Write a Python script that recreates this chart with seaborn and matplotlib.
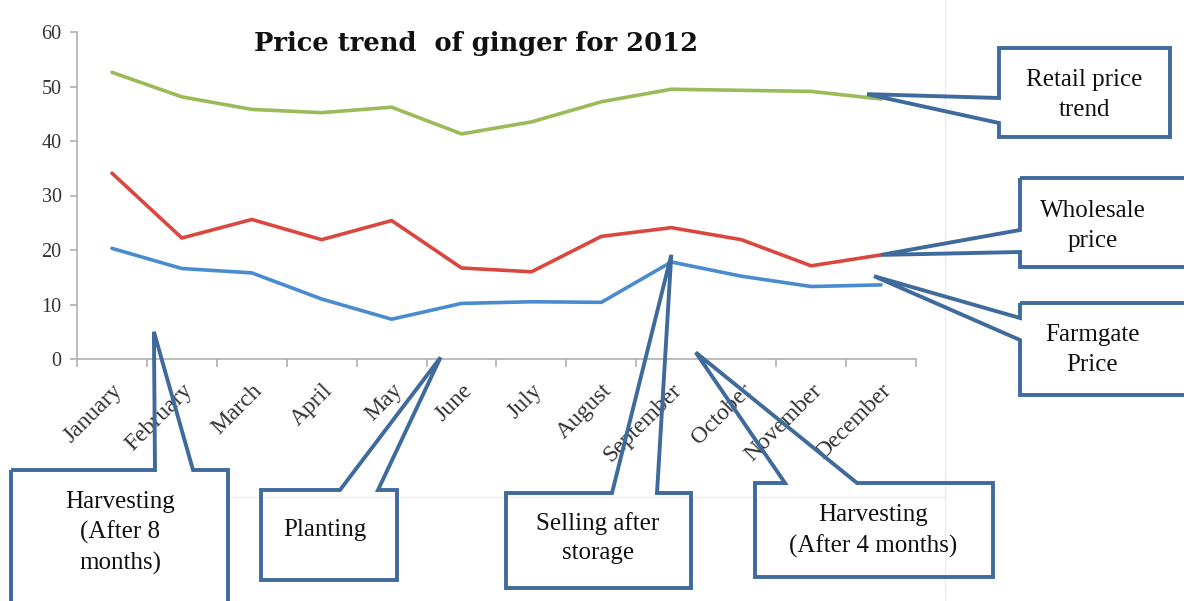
import numpy as np
import pandas as pd
import matplotlib.pyplot as plt
import seaborn as sns
from matplotlib.patches import Polygon
from matplotlib.lines import Line2D

# Data
months = ["January", "February", "March", "April", "May", "June", "July",
          "August", "September", "October", "November", "December"]
retail = [52.6, 48.1, 45.8, 45.2, 46.2, 41.3, 43.5, 47.2, 49.5, 49.3, 49.1, 47.7]
wholesale = [34.1, 22.2, 25.6, 21.9, 25.4, 16.7, 16.0, 22.5, 24.1, 21.9, 17.1, 19.1]
farmgate = [20.3, 16.6, 15.8, 11.0, 7.3, 10.2, 10.5, 10.4, 17.8, 15.2, 13.3, 13.6]
yticks = [0, 10, 20, 30, 40, 50, 60]

df = pd.DataFrame({"month": months * 3,
                   "idx": list(range(12)) * 3,
                   "price": retail + wholesale + farmgate,
                   "series": ["Retail"] * 12 + ["Wholesale"] * 12 + ["Farmgate"] * 12})

W, H = 1184, 601
sns.set_theme(style="white")
plt.rcParams['font.family'] = ['Liberation Serif', 'DejaVu Serif']

fig = plt.figure(figsize=(W / 100, H / 100), dpi=100)
ax = fig.add_axes([77 / W, 1 - 359 / H, (916 - 77) / W, (359 - 32) / H])

pal = {"Retail": "#9bbb59", "Wholesale": "#d9473f", "Farmgate": "#4a8bcf"}
sns.lineplot(data=df, x="idx", y="price", hue="series", palette=pal,
             linewidth=2.6, legend=False, ax=ax)

ax.set_xlim(-0.5, 11.5)
ax.set_ylim(0, 60)
ax.set_xlabel("")
ax.set_ylabel("")
for s in ["top", "right"]:
    ax.spines[s].set_visible(False)
for s in ["left", "bottom"]:
    ax.spines[s].set_color("#b0b0b0")
    ax.spines[s].set_linewidth(1.2)

ax.set_yticks(yticks)
ax.set_yticklabels([str(v) for v in yticks], fontsize=14.5, color="#333333")
ax.tick_params(axis="y", length=5, color="#b0b0b0", width=1.2, pad=6, left=True)

ax.set_xticks(range(12))
ax.set_xticklabels(months, rotation=45, ha="right", rotation_mode="anchor",
                   fontsize=17, color="#333333")
ax.set_xticks(np.arange(-0.5, 12, 1), minor=True)
ax.tick_params(axis="x", which="major", length=0, pad=15)
ax.tick_params(axis="x", which="minor", length=6, color="#b0b0b0", width=1.2, bottom=True)

fig.text(476 / W, 1 - 44 / H, "Price trend  of ginger for 2012", family="DejaVu Serif",
         fontsize=18.5, fontweight="bold", ha="center", va="center", color="#111111")

# faint chart area borders
fig.add_artist(Line2D([945 / W, 945 / W], [0, 1], color="#ececec", lw=1))
fig.add_artist(Line2D([230 / W, 945 / W], [1 - 497 / H] * 2, color="#ececec", lw=1))


def px(x, y):
    return (x / W, 1 - y / H)


def data_px(x, y):
    fx, fy = fig.transFigure.inverted().transform(ax.transData.transform((x, y)))
    return (fx * W, (1 - fy) * H)


def callout(box, side, a, b, tip, text, tx=None, ty=None):
    x0, y0, x1, y1 = box
    if side == "left":
        pts = [(x0, y0), (x1, y0), (x1, y1), (x0, y1), (x0, b), tip, (x0, a)]
    else:
        pts = [(x0, y0), (a, y0), tip, (b, y0), (x1, y0), (x1, y1), (x0, y1)]
    fig.add_artist(Polygon([px(*p) for p in pts], closed=True, facecolor="none",
                           edgecolor="#3f6a9c", lw=2.8, zorder=5))
    cx = (x0 + min(x1, W)) / 2 if tx is None else tx
    cy = (y0 + y1) / 2 if ty is None else ty
    fig.text(*px(cx, cy), text, ha="center", va="center", fontsize=18,
             linespacing=1.45, zorder=6, color="#111111")


callout((999, 48, 1170, 137), "left", 98, 123, data_px(10.8, 48.6), "Retail price\ntrend", ty=95)
callout((1020, 178, 1200, 267), "left", 230, 252, data_px(11, 19.1), "Wholesale\nprice", tx=1093, ty=226)
callout((1020, 303, 1200, 395), "left", 318, 340, data_px(10.9, 15.2), "Farmgate\nPrice", tx=1092, ty=350)
callout((11, 470, 228, 620), "top", 155, 193, data_px(0.6, 5.0), "Harvesting\n(After 8\nmonths)", tx=120, ty=533)
callout((261, 490, 397, 580), "top", 340, 378, data_px(4.7, 0.3), "Planting", tx=325, ty=530)
callout((506, 493, 691, 588), "top", 612, 657, data_px(8.0, 19.1), "Selling after\nstorage", tx=598, ty=538)
callout((755, 483, 993, 577), "top", 785, 857, data_px(8.35, 1.2), "Harvesting\n(After 4 months)", tx=873, ty=531)

fig.savefig("out.png", dpi=100)
